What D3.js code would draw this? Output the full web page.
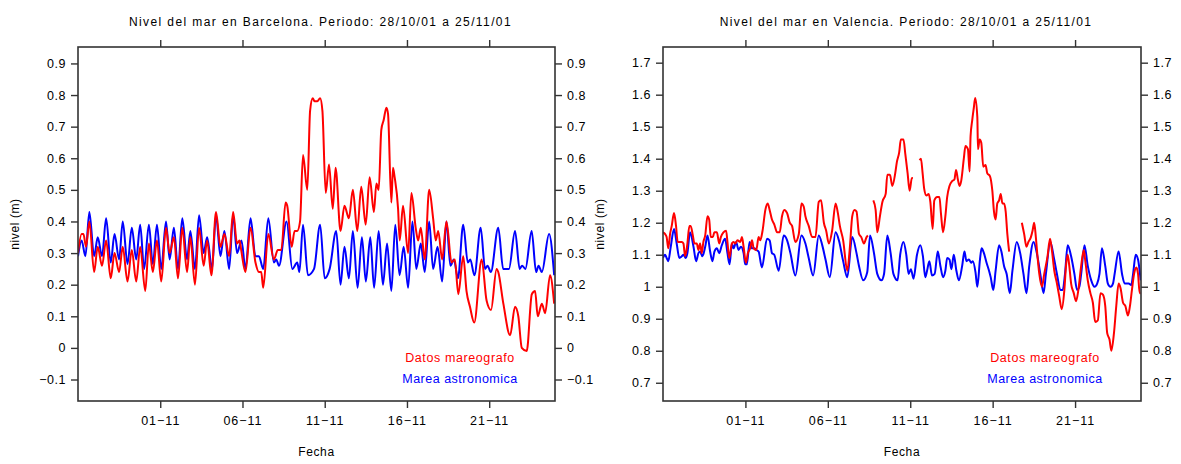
<!DOCTYPE html>
<html><head><meta charset="utf-8">
<script src="https://cdn.jsdelivr.net/npm/d3@7"></script>
<style>
body{margin:0;background:#fff;}
svg text{font-family:"Liberation Sans",Arial,Helvetica,sans-serif;fill:#000;}
</style></head><body>
<svg id="c" width="1181" height="464"></svg>
<script>
// ---------- data ----------
const startDate = "2001-10-27T00:00:00Z";
const endDate = "2001-11-25T00:00:00Z";
const dateTicks = ["2001-11-01","2001-11-06","2001-11-11","2001-11-16","2001-11-21"];
const dateTickLabels = ["01\u221211","06\u221211","11\u221211","16\u221211","21\u221211"];

const bcnTitle = "Nivel del mar en Barcelona. Periodo: 28/10/01 a 25/11/01";
const vlcTitle = "Nivel del mar en Valencia. Periodo: 28/10/01 a 25/11/01";
const seriesNames = ["Datos mareografo","Marea astronomica"];

const bcnYTicks = [-0.1,0,0.1,0.2,0.3,0.4,0.5,0.6,0.7,0.8,0.9];
const bcnYTickLabels = ["\u22120.1","0","0.1","0.2","0.3","0.4","0.5","0.6","0.7","0.8","0.9"];
const vlcYTicks = [0.7,0.8,0.9,1.0,1.1,1.2,1.3,1.4,1.5,1.6,1.7];
const vlcYTickLabels = ["0.7","0.8","0.9","1","1.1","1.2","1.3","1.4","1.5","1.6","1.7"];

// [days since 27/10/01 00:00, level (m)]
const bcnObs = [[0.00,0.30],[0.22,0.36],[0.33,0.36],[0.49,0.32],[0.69,0.40],[0.98,0.24],[1.20,0.32],[1.46,0.26],[1.71,0.34],[1.99,0.22],[2.22,0.30],[2.50,0.24],[2.72,0.32],[3.01,0.21],[3.27,0.31],[3.54,0.21],[3.78,0.32],[4.09,0.18],[4.31,0.33],[4.55,0.24],[4.80,0.34],[5.06,0.21],[5.35,0.38],[5.57,0.30],[5.83,0.35],[6.08,0.22],[6.34,0.38],[6.63,0.24],[6.83,0.35],[7.11,0.20],[7.36,0.38],[7.64,0.26],[7.85,0.34],[8.11,0.23],[8.39,0.43],[8.66,0.32],[8.90,0.36],[9.19,0.29],[9.43,0.43],[9.67,0.33],[9.82,0.34],[9.92,0.31],[10.18,0.24],[10.49,0.38],[10.79,0.27],[11.00,0.24],[11.14,0.24],[11.26,0.19],[11.57,0.36],[11.91,0.28],[12.15,0.31],[12.36,0.31],[12.62,0.46],[12.72,0.45],[12.99,0.32],[13.17,0.37],[13.33,0.37],[13.50,0.40],[13.68,0.61],[13.94,0.50],[14.11,0.75],[14.27,0.79],[14.39,0.78],[14.55,0.78],[14.72,0.79],[14.86,0.75],[15.06,0.49],[15.26,0.58],[15.49,0.44],[15.66,0.57],[15.96,0.37],[16.20,0.45],[16.47,0.41],[16.71,0.50],[16.98,0.37],[17.22,0.51],[17.49,0.39],[17.73,0.54],[17.99,0.43],[18.14,0.52],[18.28,0.50],[18.44,0.69],[18.58,0.72],[18.75,0.76],[18.85,0.74],[19.05,0.46],[19.15,0.57],[19.25,0.54],[19.46,0.44],[19.56,0.34],[19.76,0.45],[20.07,0.30],[20.27,0.49],[20.53,0.38],[20.68,0.34],[20.84,0.38],[21.08,0.28],[21.35,0.50],[21.59,0.41],[21.75,0.34],[21.90,0.37],[22.14,0.28],[22.40,0.40],[22.71,0.27],[22.91,0.28],[23.12,0.17],[23.42,0.29],[23.62,0.18],[23.83,0.13],[24.09,0.08],[24.54,0.28],[24.84,0.15],[25.11,0.12],[25.45,0.25],[25.55,0.24],[25.86,0.14],[26.27,0.04],[26.57,0.13],[26.77,0.10],[26.98,0.00],[27.28,-0.01],[27.59,0.17],[27.79,0.18],[27.95,0.10],[28.20,0.14],[28.40,0.11],[28.70,0.23],[28.95,0.14]];

const bcnTide = [[0.00,0.29],[0.22,0.34],[0.45,0.29],[0.69,0.43],[0.98,0.29],[1.20,0.35],[1.46,0.29],[1.71,0.41],[1.99,0.27],[2.22,0.36],[2.50,0.28],[2.72,0.40],[3.01,0.265],[3.27,0.38],[3.54,0.28],[3.78,0.39],[4.02,0.25],[4.31,0.39],[4.55,0.265],[4.80,0.39],[5.06,0.25],[5.35,0.40],[5.57,0.28],[5.83,0.38],[6.08,0.25],[6.34,0.41],[6.63,0.28],[6.83,0.37],[7.11,0.25],[7.36,0.42],[7.64,0.30],[7.85,0.35],[8.15,0.25],[8.39,0.42],[8.66,0.29],[8.90,0.37],[9.19,0.25],[9.43,0.42],[9.67,0.30],[9.94,0.34],[10.18,0.25],[10.49,0.41],[10.79,0.29],[11.00,0.29],[11.26,0.25],[11.57,0.41],[11.91,0.27],[12.05,0.28],[12.22,0.26],[12.68,0.40],[13.03,0.25],[13.33,0.27],[13.46,0.24],[13.68,0.39],[13.98,0.23],[14.35,0.25],[14.72,0.39],[15.00,0.22],[15.30,0.25],[15.70,0.37],[15.96,0.20],[16.20,0.32],[16.47,0.22],[16.71,0.37],[17.00,0.19],[17.26,0.35],[17.50,0.21],[17.77,0.35],[18.00,0.19],[18.28,0.37],[18.54,0.20],[18.79,0.33],[19.05,0.18],[19.29,0.39],[19.55,0.23],[19.80,0.32],[20.07,0.19],[20.33,0.40],[20.57,0.25],[20.84,0.33],[21.08,0.24],[21.35,0.40],[21.59,0.25],[21.86,0.32],[22.14,0.21],[22.40,0.40],[22.64,0.26],[22.85,0.28],[23.10,0.22],[23.42,0.39],[23.70,0.27],[23.85,0.28],[24.10,0.23],[24.48,0.38],[24.75,0.25],[24.90,0.26],[25.10,0.24],[25.55,0.38],[25.85,0.25],[26.20,0.25],[26.57,0.37],[26.85,0.25],[27.00,0.26],[27.20,0.25],[27.58,0.37],[27.85,0.24],[28.00,0.26],[28.20,0.24],[28.64,0.36],[28.95,0.23]];

const vlcObs = [[0.00,1.17],[0.12,1.165],[0.22,1.155],[0.32,1.12],[0.43,1.165],[0.53,1.19],[0.67,1.23],[0.79,1.19],[0.89,1.14],[1.14,1.14],[1.24,1.135],[1.34,1.095],[1.48,1.135],[1.60,1.19],[1.68,1.19],[1.81,1.16],[1.91,1.135],[2.05,1.135],[2.15,1.115],[2.25,1.135],[2.35,1.105],[2.45,1.14],[2.56,1.16],[2.70,1.22],[2.80,1.21],[2.90,1.155],[3.02,1.155],[3.12,1.17],[3.27,1.17],[3.41,1.135],[3.51,1.155],[3.67,1.17],[3.83,1.175],[3.91,1.14],[4.02,1.09],[4.18,1.135],[4.28,1.14],[4.38,1.135],[4.52,1.145],[4.69,1.14],[4.79,1.155],[4.89,1.125],[5.03,1.075],[5.15,1.105],[5.29,1.12],[5.40,1.145],[5.50,1.12],[5.66,1.115],[5.80,1.155],[5.90,1.145],[6.04,1.175],[6.21,1.24],[6.35,1.26],[6.47,1.24],[6.61,1.21],[6.75,1.195],[6.92,1.17],[7.08,1.17],[7.22,1.22],[7.36,1.24],[7.53,1.23],[7.69,1.20],[7.83,1.19],[8.03,1.14],[8.24,1.165],[8.40,1.26],[8.54,1.25],[8.64,1.22],[8.84,1.19],[9.05,1.155],[9.25,1.155],[9.45,1.265],[9.59,1.27],[9.76,1.20],[9.90,1.175],[10.06,1.135],[10.26,1.175],[10.47,1.26],[10.61,1.23],[10.73,1.19],[10.93,1.145],[11.18,1.05],[11.34,1.125],[11.48,1.22],[11.62,1.24],[11.74,1.235],[11.89,1.165],[12.03,1.155],[12.19,1.135],[12.35,1.155],[12.43,1.16],[12.60,null],[12.76,1.27],[12.90,1.24],[13.00,1.17],[13.16,1.22],[13.31,1.265],[13.51,1.29],[13.61,1.35],[13.77,1.35],[13.91,1.315],[14.09,1.355],[14.19,1.39],[14.33,1.42],[14.43,1.46],[14.59,1.46],[14.70,1.415],[14.84,1.355],[14.96,1.30],[15.10,1.34],[15.16,1.34],[15.35,null],[15.57,1.395],[15.65,1.40],[15.75,1.355],[15.85,1.305],[15.98,1.285],[16.12,1.29],[16.22,1.265],[16.36,1.18],[16.46,1.27],[16.63,1.28],[16.77,1.28],[16.87,1.225],[16.99,1.17],[17.13,1.22],[17.24,1.28],[17.38,1.315],[17.54,1.33],[17.68,1.335],[17.78,1.365],[17.89,1.335],[17.99,1.315],[18.09,1.33],[18.25,1.40],[18.35,1.44],[18.50,1.43],[18.60,1.36],[18.66,1.47],[18.76,1.52],[18.86,1.56],[18.94,1.59],[19.07,1.53],[19.11,1.43],[19.21,1.46],[19.31,1.45],[19.43,1.375],[19.57,1.38],[19.67,1.355],[19.84,1.345],[19.98,1.30],[20.08,1.235],[20.18,1.21],[20.28,1.26],[20.39,1.27],[20.49,1.29],[20.59,1.26],[20.69,1.26],[20.79,1.235],[20.89,1.165],[21.00,1.11],[21.40,null],[21.77,1.20],[21.91,1.165],[22.05,1.125],[22.17,1.14],[22.32,1.155],[22.42,1.175],[22.52,1.20],[22.62,1.155],[22.72,1.095],[22.83,1.04],[22.99,1.00],[23.13,1.04],[23.33,1.095],[23.48,1.15],[23.58,1.12],[23.74,1.05],[23.90,1.01],[24.04,0.97],[24.19,0.93],[24.35,0.99],[24.45,1.065],[24.55,1.10],[24.65,1.065],[24.76,1.01],[24.92,0.98],[25.06,0.955],[25.20,0.99],[25.37,1.065],[25.53,1.115],[25.61,1.085],[25.77,1.02],[25.93,0.98],[26.08,0.95],[26.22,0.89],[26.38,0.895],[26.54,0.98],[26.69,0.975],[26.83,0.94],[26.95,0.855],[27.09,0.835],[27.20,0.80],[27.36,0.855],[27.50,0.94],[27.64,1.01],[27.76,0.995],[27.91,0.95],[28.05,0.94],[28.21,0.91],[28.33,0.94],[28.45,0.99],[28.58,1.04],[28.72,1.06],[28.82,1.04],[28.92,0.98],[28.98,0.98]];

const vlcTide = [[0.00,1.09],[0.12,1.10],[0.22,1.09],[0.32,1.08],[0.47,1.125],[0.67,1.18],[0.83,1.135],[0.99,1.09],[1.14,1.095],[1.24,1.10],[1.38,1.09],[1.48,1.105],[1.64,1.17],[1.85,1.125],[2.01,1.08],[2.15,1.105],[2.25,1.11],[2.39,1.095],[2.56,1.125],[2.70,1.16],[2.86,1.11],[3.00,1.08],[3.12,1.11],[3.27,1.12],[3.41,1.105],[3.57,1.13],[3.77,1.15],[3.91,1.105],[4.04,1.07],[4.18,1.135],[4.28,1.12],[4.44,1.14],[4.58,1.115],[4.73,1.125],[4.89,1.105],[4.99,1.07],[5.09,1.07],[5.25,1.14],[5.40,1.12],[5.54,1.12],[5.66,1.115],[5.80,1.11],[6.00,1.06],[6.31,1.15],[6.47,1.145],[6.61,1.105],[6.75,1.10],[7.02,1.05],[7.32,1.16],[7.53,1.145],[7.73,1.105],[8.03,1.035],[8.40,1.16],[8.64,1.135],[8.84,1.09],[9.11,1.035],[9.45,1.16],[9.66,1.13],[9.86,1.085],[10.12,1.03],[10.47,1.17],[10.67,1.145],[10.93,1.08],[11.18,1.03],[11.48,1.155],[11.74,1.105],[11.89,1.065],[12.15,1.02],[12.39,1.045],[12.56,1.16],[12.80,1.105],[13.00,1.04],[13.25,1.02],[13.41,1.04],[13.61,1.16],[13.81,1.105],[13.98,1.04],[14.23,1.02],[14.39,1.10],[14.59,1.14],[14.76,1.10],[14.90,1.04],[15.04,1.055],[15.20,1.025],[15.41,1.10],[15.61,1.13],[15.77,1.095],[15.91,1.03],[16.02,1.05],[16.16,1.08],[16.32,1.035],[16.48,1.04],[16.67,1.11],[16.83,1.065],[16.99,1.03],[17.13,1.05],[17.24,1.09],[17.38,1.085],[17.50,1.055],[17.64,1.10],[17.80,1.05],[17.95,1.02],[18.15,1.065],[18.29,1.11],[18.41,1.08],[18.56,1.085],[18.70,1.075],[18.80,1.08],[18.96,1.045],[19.07,1.00],[19.23,1.085],[19.33,1.12],[19.47,1.105],[19.63,1.075],[19.78,1.05],[19.88,1.03],[20.04,0.99],[20.18,1.05],[20.39,1.13],[20.53,1.11],[20.69,1.065],[20.85,1.04],[21.04,0.98],[21.20,1.05],[21.46,1.14],[21.67,1.105],[21.87,1.04],[22.05,0.98],[22.22,1.065],[22.48,1.14],[22.68,1.105],[22.89,1.04],[23.09,0.98],[23.23,1.04],[23.50,1.14],[23.70,1.095],[23.90,1.04],[24.11,0.99],[24.25,0.99],[24.39,1.04],[24.55,1.13],[24.76,1.095],[24.96,1.04],[25.12,0.99],[25.26,1.00],[25.37,1.04],[25.57,1.13],[25.77,1.065],[25.98,1.02],[26.18,1.00],[26.34,1.01],[26.48,1.04],[26.63,1.12],[26.83,1.065],[26.99,1.01],[27.15,1.00],[27.30,1.01],[27.40,1.04],[27.64,1.11],[27.85,1.04],[28.01,1.01],[28.25,1.01],[28.41,1.005],[28.52,1.04],[28.68,1.10],[28.82,1.085],[28.98,1.02]];

// ---------- drawing ----------
const svg = d3.select("#c");
const DAY = 86400000;
const t0 = new Date(startDate).getTime();
const toDate = d => new Date(t0 + d * DAY);

function panel(cfg) {
  const {left, right, top, bottom, yDomain, yTicks, yLabels, title, obs, tide} = cfg;
  const x = d3.scaleUtc().domain([new Date(startDate), new Date(endDate)]).range([left, right]);
  const y = d3.scaleLinear().domain(yDomain).range([bottom, top]);
  const xTickVals = dateTicks.map(s => new Date(s + "T00:00:00Z"));
  const g = svg.append("g");

  const clipId = "clip" + left;
  svg.append("clipPath").attr("id", clipId).append("rect")
    .attr("x", left).attr("y", top).attr("width", right - left).attr("height", bottom - top);

  const line = d3.line()
    .defined(d => d[1] !== null)
    .x(d => x(toDate(d[0]))).y(d => y(d[1]))
    .curve(d3.curveMonotoneX);

  const lines = g.append("g").attr("clip-path", `url(#${clipId})`);
  lines.append("path").datum(tide).attr("d", line)
    .attr("fill", "none").attr("stroke", "#0000ff").attr("stroke-width", 2).attr("stroke-linejoin", "round");
  lines.append("path").datum(obs).attr("d", line)
    .attr("fill", "none").attr("stroke", "#ff0000").attr("stroke-width", 2).attr("stroke-linejoin", "round");

  const styleAxis = sel => {
    sel.select(".domain").remove();
    sel.selectAll(".tick line").attr("stroke", "#333").attr("stroke-width", 1.4);
    sel.selectAll(".tick text").attr("font-size", 12.5).attr("letter-spacing", 0.5)
      .attr("font-family", '"Liberation Sans",Arial,sans-serif').attr("fill", "#000");
  };

  g.append("g").attr("transform", `translate(${left},0)`)
    .call(d3.axisLeft(y).tickValues(yTicks).tickFormat((d, i) => yLabels[i]).tickSize(7).tickPadding(5))
    .call(styleAxis);
  g.append("g").attr("transform", `translate(${right},0)`)
    .call(d3.axisRight(y).tickValues(yTicks).tickFormat((d, i) => yLabels[i]).tickSize(7).tickPadding(5))
    .call(styleAxis);
  g.append("g").attr("transform", `translate(0,${bottom})`)
    .call(d3.axisBottom(x).tickValues(xTickVals).tickFormat((d, i) => dateTickLabels[i]).tickSize(7).tickPadding(8))
    .call(styleAxis)
    .call(s => s.selectAll(".tick text").attr("letter-spacing", 1));
  g.append("g").attr("transform", `translate(0,${top})`)
    .call(d3.axisTop(x).tickValues(xTickVals).tickFormat("").tickSize(7))
    .call(styleAxis);

  g.append("rect").attr("x", left).attr("y", top).attr("width", right - left).attr("height", bottom - top)
    .attr("fill", "none").attr("stroke", "#333").attr("stroke-width", 1.6);

  const cx = (left + right) / 2;
  g.append("text").attr("x", cx + 4).attr("y", 26).attr("text-anchor", "middle")
    .attr("font-size", 12).attr("letter-spacing", 1.4).text(title);
  g.append("text").attr("x", cx).attr("y", 456).attr("text-anchor", "middle")
    .attr("font-size", 12).attr("letter-spacing", 0.6).text("Fecha");
  g.append("text").attr("transform", `translate(${left - 59},${(top + bottom) / 2}) rotate(-90)`)
    .attr("text-anchor", "middle").attr("font-size", 12).attr("letter-spacing", 0.6).text("nivel (m)");

  const lx = left + 382;
  g.append("text").attr("x", lx).attr("y", 362).attr("text-anchor", "middle")
    .attr("font-size", 12.5).attr("letter-spacing", 0.6).style("fill", "#ff0000").text(seriesNames[0]);
  g.append("text").attr("x", lx).attr("y", 383).attr("text-anchor", "middle")
    .attr("font-size", 12.5).attr("letter-spacing", 0.5).style("fill", "#0000ff").text(seriesNames[1]);
}

panel({left: 78, right: 555, top: 47, bottom: 401, yDomain: [-0.168, 0.952],
  yTicks: bcnYTicks, yLabels: bcnYTickLabels, title: bcnTitle, obs: bcnObs, tide: bcnTide});
panel({left: 663, right: 1141, top: 47, bottom: 401, yDomain: [0.643, 1.749],
  yTicks: vlcYTicks, yLabels: vlcYTickLabels, title: vlcTitle, obs: vlcObs, tide: vlcTide});
</script>
</body></html>
